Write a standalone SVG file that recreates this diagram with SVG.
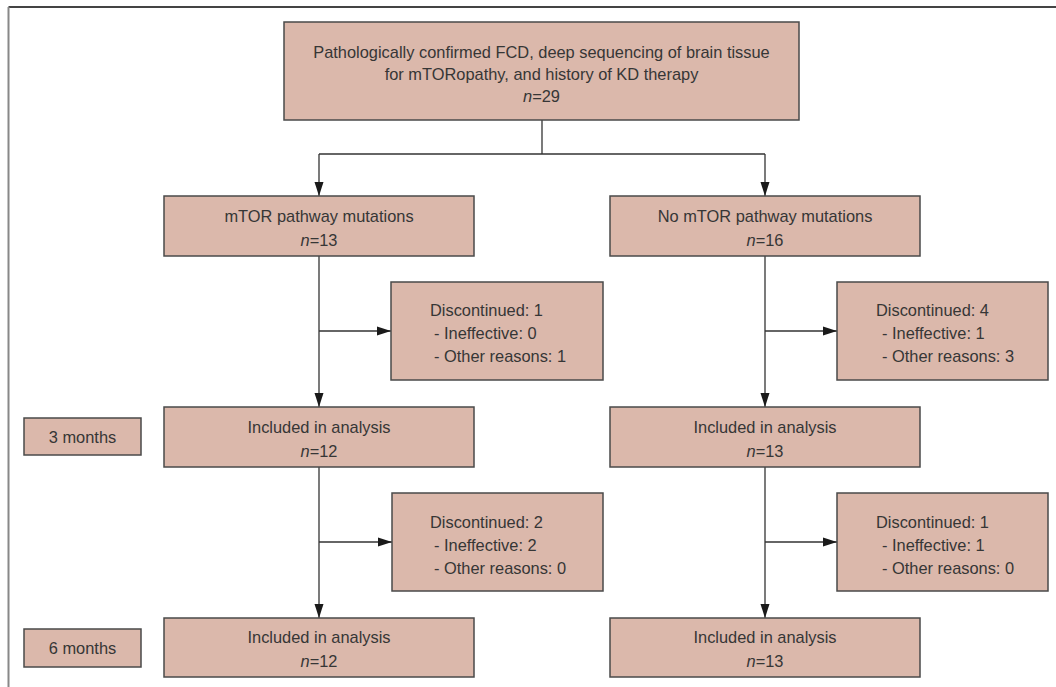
<svg xmlns="http://www.w3.org/2000/svg" width="1056" height="687" viewBox="0 0 1056 687">
<style>
.box{fill:#dbb8ab;stroke:#4a4a4a;stroke-width:1.5}
.t{font-family:"Liberation Sans",Arial,sans-serif;font-size:16.4px;fill:#363636}
.c{text-anchor:middle}
.ln{fill:none;stroke:#333;stroke-width:1.3}
</style>
<defs>
<marker id="ah" markerUnits="userSpaceOnUse" markerWidth="15" markerHeight="10" refX="14" refY="5" orient="auto">
<path d="M0,0.5 L14,5 L0,9.5 z" fill="#1a1a1a"/>
</marker>
</defs>
<rect width="1056" height="687" fill="#fff"/>
<g id="frame">
<line x1="8.5" y1="7" x2="1056" y2="7" stroke="#444" stroke-width="2"/>
<line x1="8.5" y1="7" x2="8.5" y2="687" stroke="#888" stroke-width="2"/>
</g>
<g id="connectors">
<polyline class="ln" points="542,120 542,154"/>
<polyline class="ln" points="319,154 765,154"/>
<line class="ln" x1="319" y1="154" x2="319" y2="196" marker-end="url(#ah)"/>
<line class="ln" x1="765" y1="154" x2="765" y2="196" marker-end="url(#ah)"/>
<line class="ln" x1="319" y1="256" x2="319" y2="407" marker-end="url(#ah)"/>
<line class="ln" x1="319" y1="331" x2="391" y2="331" marker-end="url(#ah)"/>
<line class="ln" x1="319" y1="467" x2="319" y2="618" marker-end="url(#ah)"/>
<line class="ln" x1="319" y1="542" x2="392" y2="542" marker-end="url(#ah)"/>
<line class="ln" x1="765" y1="256" x2="765" y2="407" marker-end="url(#ah)"/>
<line class="ln" x1="765" y1="331" x2="837" y2="331" marker-end="url(#ah)"/>
<line class="ln" x1="765" y1="467" x2="765" y2="618" marker-end="url(#ah)"/>
<line class="ln" x1="765" y1="542" x2="837" y2="542" marker-end="url(#ah)"/>
</g>
<g id="top">
<rect class="box" x="284" y="22" width="515" height="98"/>
<text class="t c" x="541.5" y="58">Pathologically confirmed FCD, deep sequencing of brain tissue</text>
<text class="t c" x="541.5" y="80">for mTORopathy, and history of KD therapy</text>
<text class="t c" x="541.5" y="102"><tspan font-style="italic">n</tspan>=29</text>
</g>
<g id="mtor">
<rect class="box" x="164" y="196" width="310" height="60"/>
<text class="t c" x="319" y="222">mTOR pathway mutations</text>
<text class="t c" x="319" y="246"><tspan font-style="italic">n</tspan>=13</text>
</g>
<g id="nomtor">
<rect class="box" x="610" y="196" width="310" height="60"/>
<text class="t c" x="765" y="222">No mTOR pathway mutations</text>
<text class="t c" x="765" y="246"><tspan font-style="italic">n</tspan>=16</text>
</g>
<g id="disc1L">
<rect class="box" x="391" y="282" width="212" height="98"/>
<text class="t" x="430" y="316">Discontinued: 1</text>
<text class="t" x="434" y="339">- Ineffective: 0</text>
<text class="t" x="434" y="362">- Other reasons: 1</text>
</g>
<g id="disc1R">
<rect class="box" x="837" y="282" width="211" height="98"/>
<text class="t" x="876" y="316">Discontinued: 4</text>
<text class="t" x="882" y="339">- Ineffective: 1</text>
<text class="t" x="882" y="362">- Other reasons: 3</text>
</g>
<g id="m3">
<rect class="box" x="24" y="418" width="117" height="37"/>
<text class="t c" x="82.5" y="443">3 months</text>
</g>
<g id="inc3L">
<rect class="box" x="164" y="407" width="310" height="60"/>
<text class="t c" x="319" y="433">Included in analysis</text>
<text class="t c" x="319" y="457"><tspan font-style="italic">n</tspan>=12</text>
</g>
<g id="inc3R">
<rect class="box" x="610" y="407" width="310" height="60"/>
<text class="t c" x="765" y="433">Included in analysis</text>
<text class="t c" x="765" y="457"><tspan font-style="italic">n</tspan>=13</text>
</g>
<g id="disc2L">
<rect class="box" x="392" y="493" width="211" height="98"/>
<text class="t" x="430" y="528">Discontinued: 2</text>
<text class="t" x="434" y="551">- Ineffective: 2</text>
<text class="t" x="434" y="574">- Other reasons: 0</text>
</g>
<g id="disc2R">
<rect class="box" x="837" y="493" width="211" height="98"/>
<text class="t" x="876" y="528">Discontinued: 1</text>
<text class="t" x="882" y="551">- Ineffective: 1</text>
<text class="t" x="882" y="574">- Other reasons: 0</text>
</g>
<g id="m6">
<rect class="box" x="24" y="629" width="117" height="38"/>
<text class="t c" x="82.5" y="654">6 months</text>
</g>
<g id="inc6L">
<rect class="box" x="164" y="618" width="310" height="59"/>
<text class="t c" x="319" y="643">Included in analysis</text>
<text class="t c" x="319" y="667"><tspan font-style="italic">n</tspan>=12</text>
</g>
<g id="inc6R">
<rect class="box" x="610" y="618" width="310" height="59"/>
<text class="t c" x="765" y="643">Included in analysis</text>
<text class="t c" x="765" y="667"><tspan font-style="italic">n</tspan>=13</text>
</g>
</svg>
